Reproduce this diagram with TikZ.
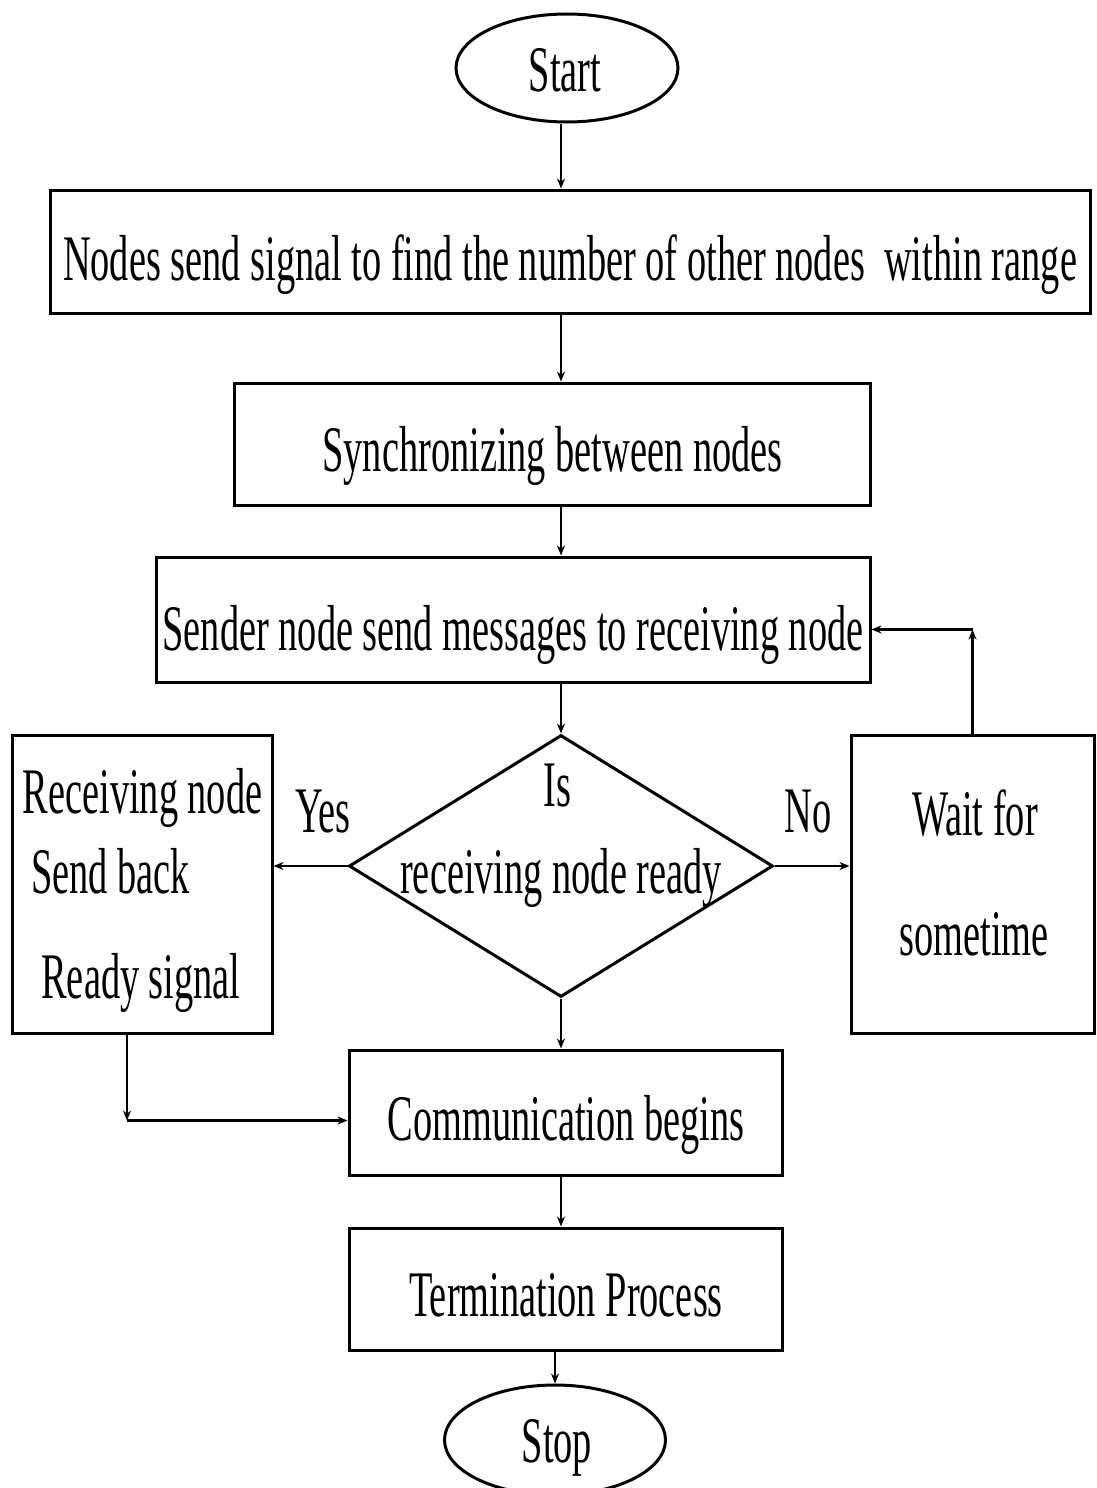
\documentclass[tikz,border=0pt]{standalone}
\usepackage{fontspec}
\usepackage{graphicx}
\setmainfont{Liberation Serif}
\usetikzlibrary{shapes.geometric,arrows.meta,calc}
\newcommand{\tx}[1]{\scalebox{0.59}[1]{#1}}
\begin{document}
\begin{tikzpicture}[x=1pt,y=-1pt,
  box/.style={draw,line width=3pt,inner sep=0pt,rectangle},
  terminal/.style={draw,ellipse,line width=3pt,inner sep=0pt},
  decision/.style={draw,diamond,line width=3pt,inner sep=0pt},
  lbl/.style={anchor=base,inner sep=0pt,font=\fontsize{65}{78}\selectfont},
  arr/.style={line width=2.6pt,-{Stealth[length=10pt,width=8pt]}}]
\clip (0,0) rectangle (1096,1488);
% shapes
\node[terminal,minimum width=222pt,minimum height=108pt] (start) at (567,68) {};
\node[box,minimum width=1040pt,minimum height=123pt] (b1) at (570,251.5) {};
\node[box,minimum width=636pt,minimum height=122pt] (b2) at (552,444) {};
\node[box,minimum width=714pt,minimum height=125pt] (b3) at (513,619.5) {};
\node[decision,minimum width=424pt,minimum height=262pt] (dia) at (561,866) {};
\node[box,minimum width=260pt,minimum height=298pt] (lbox) at (142,884) {};
\node[box,minimum width=243pt,minimum height=298pt] (rbox) at (972.5,884) {};
\node[box,minimum width=433pt,minimum height=125pt] (comm) at (565.5,1112.5) {};
\node[box,minimum width=433pt,minimum height=122pt] (term) at (565.5,1289) {};
\node[terminal,minimum width=221pt,minimum height=110pt] (stop) at (555,1440) {};
% texts
\node[lbl] (tstart) at (565,92) {\tx{Start}};
\node[lbl] (t1) at (570,280) {\tx{Nodes send signal to find the number of other nodes\ \ within range}};
\node[lbl] (t2) at (552.5,471) {\tx{Synchronizing between nodes}};
\node[lbl] (t3) at (513,650) {\tx{Sender node send messages to receiving node}};
\node[lbl] (tis) at (557.5,806) {\tx{Is}};
\node[lbl] (tready) at (561,893) {\tx{receiving node ready}};
\node[lbl] (tl1) at (142.5,813) {\tx{Receiving node}};
\node[lbl] (tl2) at (110.5,893) {\tx{Send back}};
\node[lbl] (tl3) at (141,998) {\tx{Ready signal}};
\node[lbl] (tyes) at (323,832) {\tx{Yes}};
\node[lbl] (tno) at (808,832) {\tx{No}};
\node[lbl] (tr1) at (975,835) {\tx{Wait for}};
\node[lbl] (tr2) at (974,955) {\tx{sometime}};
\node[lbl] (tc) at (566,1140) {\tx{Communication begins}};
\node[lbl] (tt) at (566,1316) {\tx{Termination Process}};
\node[lbl] (tstop) at (557,1462) {\tx{Stop}};
% connectors
\draw[arr] (start.south -| dia.north) -- (b1.north -| dia.north);
\draw[arr] (b1.south -| dia.north) -- (b2.north -| dia.north);
\draw[arr] (b2.south -| dia.north) -- (b3.north -| dia.north);
\draw[arr] (b3.south -| dia.north) -- (dia.north);
\draw[arr] (dia.south) -- (comm.north -| dia.south);
\draw[arr] (comm.south -| dia.south) -- (term.north -| dia.south);
\draw[arr] (term.south -| stop.north) -- (stop.north);
\draw[arr] (dia.west) -- (dia.west -| lbox.east);
\draw[arr] (dia.east) -- (dia.east -| rbox.west);
\coordinate (rc) at ($(rbox.north |- b3.east)+(0,10)$);
\draw[arr] (rbox.north) -- (rc);
\draw[arr] (rc) -- (rc -| b3.east);
\coordinate (lc) at ($([xshift=-15pt]lbox.south |- comm.west)+(0,8)$);
\draw[arr] ([xshift=-15pt]lbox.south) -- (lc);
\draw[arr] (lc) -- (lc -| comm.west);
\end{tikzpicture}
\end{document}
